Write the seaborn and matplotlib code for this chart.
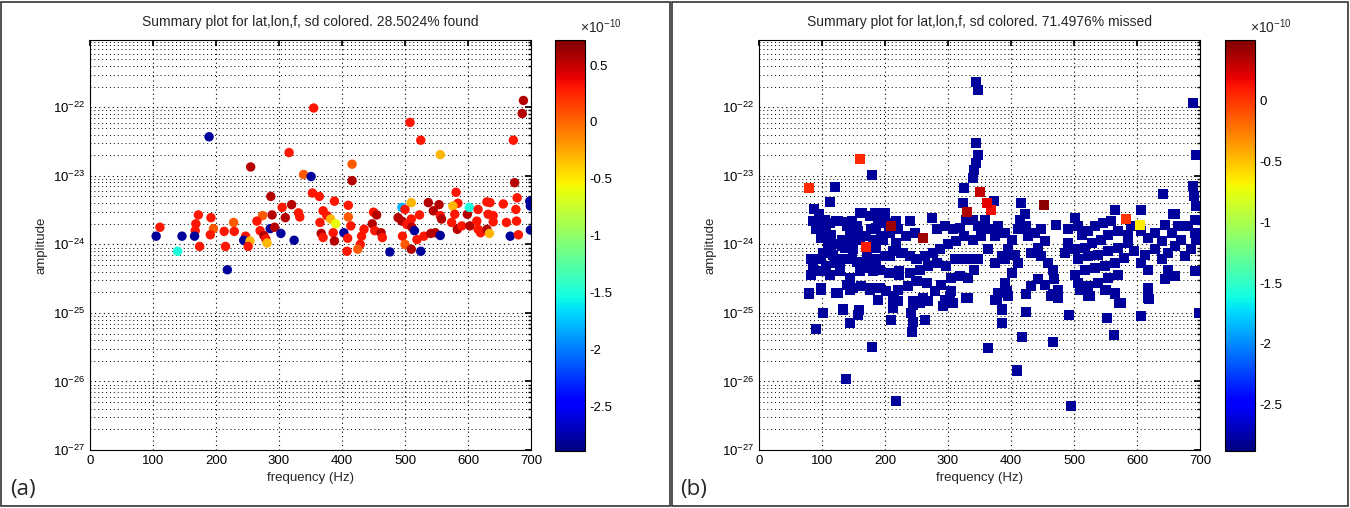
import matplotlib
matplotlib.use("Agg")
import matplotlib.pyplot as plt
import matplotlib.ticker as mticker
from matplotlib.colors import Normalize
from matplotlib.cm import ScalarMappable
from matplotlib.patches import Rectangle
import numpy as np
import pandas as pd
import seaborn as sns


### Data ###

# (a) found injections: frequency (Hz), log10(amplitude), sd (x 1e-10)
found_freq = [
    189, 316, 255, 355, 339, 351, 353, 287, 320, 305, 331, 333, 310, 289, 274, 265,
    172, 192, 168, 111, 196, 167, 191, 213, 228, 229, 270, 286, 293, 276, 279, 303,
    324, 105, 146, 166, 247, 244, 254, 251, 281, 174, 215, 139, 218, 688, 686, 508,
    525, 672, 556, 416, 416, 674, 364, 388, 410, 510, 537, 554, 581, 584, 630, 635,
    656, 678, 698, 699, 495, 500, 523, 545, 556, 558, 576, 579, 599, 602, 616, 632,
    640, 640, 676, 677, 661, 699, 370, 376, 365, 382, 390, 367, 370, 386, 388, 410,
    414, 403, 409, 435, 431, 429, 425, 408, 450, 455, 448, 452, 462, 464, 476, 489,
    495, 503, 510, 511, 515, 496, 500, 510, 519, 525, 530, 541, 548, 556, 574, 583,
    590, 603, 614, 616, 620, 630, 634, 667, 680,
]
found_logamp = [
    -22.43, -22.66, -22.87, -22.01, -22.98, -23.01, -23.25, -23.30, -23.42, -23.46, -23.54, -23.60, -23.61, -23.57, -23.58, -23.66,
    -23.57, -23.61, -23.70, -23.75, -23.77, -23.80, -23.86, -23.81, -23.68, -23.81, -23.80, -23.77, -23.75, -23.87, -23.92, -23.84,
    -23.94, -23.88, -23.88, -23.88, -23.88, -23.94, -23.95, -24.03, -23.98, -24.03, -24.03, -24.10, -24.37, -21.90, -22.09, -22.22,
    -22.48, -22.48, -22.69, -22.83, -23.07, -23.10, -23.30, -23.37, -23.43, -23.39, -23.39, -23.42, -23.24, -23.40, -23.38, -23.39,
    -23.41, -23.32, -23.37, -23.44, -23.46, -23.49, -23.57, -23.51, -23.58, -23.63, -23.44, -23.56, -23.56, -23.46, -23.49, -23.56,
    -23.58, -23.67, -23.49, -23.66, -23.68, -23.79, -23.51, -23.58, -23.68, -23.63, -23.70, -23.84, -23.90, -23.83, -23.95, -23.60,
    -23.73, -23.83, -23.91, -23.78, -23.88, -24.00, -24.07, -24.10, -23.53, -23.57, -23.70, -23.80, -23.83, -23.90, -24.11, -23.61,
    -23.66, -23.71, -23.63, -23.75, -23.80, -23.88, -24.00, -24.07, -23.93, -24.10, -23.88, -23.84, -23.83, -23.87, -23.68, -23.78,
    -23.73, -23.73, -23.66, -23.78, -23.83, -23.78, -23.84, -23.88, -23.86,
]
found_sd = [
    -2.8, 0.3, 0.55, 0.3, 0.05, -2.8, 0.3, 0.55, 0.55, 0.3, 0.3, 0.3, 0.55, 0.55, 0.05, 0.3,
    0.3, 0.3, 0.3, 0.3, 0.05, 0.3, 0.3, 0.3, 0.05, 0.3, 0.3, -2.8, 0.55, 0.55, 0.3, -2.8,
    -2.8, -2.8, -2.8, -2.8, 0.3, -2.8, -0.3, 0.3, -0.3, 0.3, 0.3, -1.5, -2.8, 0.55, 0.55, 0.3,
    0.3, 0.3, -0.3, 0.05, 0.55, 0.55, 0.3, 0.3, 0.3, -0.3, 0.55, 0.55, 0.3, 0.3, 0.3, 0.3,
    0.3, 0.3, -2.8, -2.8, -1.8, 0.3, 0.3, 0.55, 0.3, 0.55, -0.3, 0.3, 0.55, -1.5, 0.3, 0.3,
    0.3, 0.3, 0.3, 0.3, 0.3, -2.8, 0.3, 0.3, 0.3, -0.3, -0.6, 0.55, 0.3, 0.3, 0.55, 0.05,
    0.3, -2.8, 0.3, 0.3, 0.3, 0.3, 0.05, 0.3, 0.3, 0.55, 0.55, 0.3, 0.55, 0.3, -2.8, 0.55,
    0.55, 0.3, 0.3, 0.55, -2.8, 0.3, 0.05, 0.55, 0.3, -2.8, 0.3, 0.55, 0.55, -2.8, 0.3, 0.55,
    0.3, 0.55, 0.3, 0.3, 0.3, 0.55, -0.3, -2.8, 0.3,
]

# (b) missed injections
missed_freq = [
    344, 348, 689, 344, 348, 694, 160, 180, 80, 120, 345, 342, 340, 326, 351, 689,
    691, 641, 112, 362, 369, 373, 330, 324, 453, 416, 583, 605, 607, 565, 210, 260,
    170, 657, 694,
    88, 96, 104, 112, 91, 107, 115, 125, 139, 147, 160, 176, 184, 200, 202, 186,
    157, 144, 131, 120, 110, 102, 118, 136, 147, 160, 170, 181, 194, 207, 221, 234,
    247, 239, 218, 274, 282, 295, 308, 319, 329, 340, 350, 353, 340, 326, 313, 300,
    287, 276, 263, 250, 239, 226, 213, 200, 186, 176, 160, 147, 133, 120, 107, 94,
    83, 86, 83, 99, 112, 128, 144, 160, 176, 192, 207, 223, 239, 255, 268, 282,
    297, 311, 324, 340, 342, 332, 319, 305, 289, 279, 266, 250, 237, 221, 213, 202,
    192, 176, 162, 149, 139, 123, 99, 80, 189, 213, 244, 260, 295, 308, 329,
    358, 348, 364, 379, 374, 390, 401, 395, 385, 364, 348, 374, 390, 406, 411, 401,
    390, 379, 374, 422, 414, 424, 411, 427, 438, 448, 454, 443, 432, 448, 459, 467,
    469, 475, 464, 454, 443, 432, 472, 491, 501, 506, 512, 522, 533, 546, 559, 570,
    554, 543, 528, 517, 501, 491, 485, 506, 522, 538, 554, 570, 586, 596, 580, 565,
    549, 533, 517, 501, 506, 522, 538, 554, 570, 549, 565, 575, 522, 607, 618, 628,
    639, 628, 612, 607, 618, 639, 649, 660, 670, 655, 665, 660, 644, 681, 692, 692,
    694, 649, 660, 644, 618, 618, 692, 591, 586, 676, 686,
    80, 99, 125, 144, 176, 189, 215, 221, 213, 210, 244, 255, 268, 242, 244, 243,
    264, 292, 303, 305, 332, 377, 395, 393, 386, 386, 424, 424, 467, 475, 492, 509,
    525, 551, 565, 572, 552, 564, 607, 617, 619, 698, 102, 133, 158, 157, 145, 90,
    179, 363, 418, 466, 410, 138, 217, 496,
    96, 86, 102, 91, 107, 99, 115, 123, 141, 155, 163, 184, 200, 189, 178, 160,
    144, 131, 115, 149, 171, 186, 197, 208, 218, 229, 208, 186, 155, 128, 99, 86,
    223, 181,
]
missed_logamp = [
    -21.63, -21.75, -21.94, -22.52, -22.70, -22.70, -22.75, -22.99, -23.18, -23.16, -22.81, -22.91, -23.03, -23.17, -23.23, -23.15,
    -23.30, -23.26, -23.38, -23.40, -23.50, -23.36, -23.53, -23.40, -23.43, -23.40, -23.63, -23.71, -23.50, -23.50, -23.73, -23.91,
    -24.04, -23.55, -23.44,
    -23.49, -23.56, -23.64, -23.69, -23.71, -23.78, -23.86, -23.66, -23.73, -23.66, -23.54, -23.59, -23.54, -23.54, -23.69, -23.76,
    -23.81, -23.88, -23.93, -24.00, -24.05, -24.12, -24.15, -24.05, -23.98, -23.93, -23.88, -23.93, -23.88, -23.83, -23.78, -23.88,
    -23.83, -23.66, -23.66, -23.61, -23.78, -23.73, -23.78, -23.76, -23.64, -23.64, -23.73, -23.88, -23.93, -23.88, -23.95, -24.00,
    -24.07, -24.12, -24.17, -24.22, -24.17, -24.12, -24.10, -24.17, -24.22, -24.27, -24.25, -24.22, -24.22, -24.27, -24.32, -24.22,
    -24.22, -24.32, -24.44, -24.39, -24.44, -24.39, -24.49, -24.39, -24.34, -24.37, -24.42, -24.44, -24.42, -24.37, -24.32, -24.27,
    -24.32, -24.22, -24.22, -24.22, -24.37, -24.49, -24.46, -24.49, -24.59, -24.68, -24.56, -24.54, -24.61, -24.66, -24.76, -24.68,
    -24.63, -24.63, -24.61, -24.63, -24.59, -24.71, -24.63, -24.71, -24.81, -24.85, -24.83, -24.78, -24.81, -24.85, -24.78,
    -23.64, -23.73, -23.78, -23.73, -23.88, -23.83, -23.93, -24.07, -24.17, -24.07, -24.22, -24.27, -24.22, -24.15, -24.27, -24.42,
    -24.56, -24.71, -24.81, -23.56, -23.64, -23.73, -23.78, -23.88, -23.83, -23.78, -23.95, -24.05, -24.12, -24.17, -24.27, -24.37,
    -24.51, -24.66, -24.76, -24.59, -24.51, -24.61, -23.71, -23.78, -23.61, -23.73, -23.86, -23.81, -23.73, -23.69, -23.66, -23.81,
    -23.86, -23.93, -23.98, -24.05, -24.07, -23.98, -24.12, -24.22, -24.17, -24.15, -24.10, -24.05, -23.98, -24.10, -24.20, -24.27,
    -24.32, -24.34, -24.37, -24.44, -24.56, -24.61, -24.56, -24.49, -24.44, -24.66, -24.71, -24.85, -24.76, -23.81, -23.90, -23.83,
    -23.95, -24.07, -24.15, -24.27, -24.37, -24.22, -24.12, -24.03, -23.93, -23.83, -23.73, -23.56, -23.71, -23.73, -23.83, -23.64,
    -23.93, -24.37, -24.46, -24.51, -24.63, -24.78, -24.39, -23.73, -23.86, -24.17, -24.07,
    -24.72, -24.66, -24.71, -24.66, -24.66, -24.81, -24.76, -24.83, -24.93, -25.11, -24.88, -24.85, -24.83, -25.00, -25.13, -25.28,
    -25.11, -24.90, -24.76, -24.68, -24.78, -24.81, -24.76, -24.68, -24.95, -25.15, -24.98, -24.73, -24.73, -24.78, -25.03, -24.66,
    -24.76, -24.66, -24.73, -24.85, -25.07, -25.32, -25.05, -24.68, -24.80, -25.00, -25.00, -24.95, -24.96, -25.03, -25.15, -25.24,
    -25.50, -25.51, -25.35, -25.42, -25.84, -25.97, -26.28, -26.36,
    -23.59, -23.66, -23.68, -23.78, -23.81, -23.90, -23.93, -23.66, -23.68, -23.73, -23.54, -23.56, -23.56, -23.68, -23.78, -23.88,
    -23.93, -24.03, -24.07, -24.07, -24.12, -24.05, -23.93, -23.83, -23.98, -24.12, -24.17, -24.25, -24.25, -24.25, -24.22, -24.25,
    -24.39, -24.39,
]
missed_colored = {  # index -> sd (x 1e-10); every other missed point sits at -2.8
    6: 0.05, 8: 0.05, 14: 0.3, 19: 0.2, 20: 0.15, 22: 0.35, 24: 0.45,
    26: 0.0, 27: -0.65, 30: 0.4, 31: 0.4, 32: 0.1,
}
missed_sd = [missed_colored.get(i, -2.8) for i in range(len(missed_freq))]

found_title = "Summary plot for lat,lon,f, sd colored. 28.5024% found"
missed_title = "Summary plot for lat,lon,f, sd colored. 71.4976% missed"
freq_ticks = [0, 100, 200, 300, 400, 500, 600, 700]
amp_ticks = [1e-27, 1e-26, 1e-25, 1e-24, 1e-23, 1e-22]
found_cbar_ticks = [0.5, 0, -0.5, -1, -1.5, -2, -2.5]
missed_cbar_ticks = [0, -0.5, -1, -1.5, -2, -2.5]
found_clim = (-2.89, 0.72)
missed_clim = (-2.88, 0.5)


### Styling ###

sns.set_theme(style="white")
plt.rcParams["font.family"] = ["Liberation Sans", "DejaVu Sans"]
plt.rcParams["axes.unicode_minus"] = False
plt.rcParams["mathtext.default"] = "regular"

JET = matplotlib.colormaps["jet"]
W, H = 1350, 508
fig = plt.figure(figsize=(W / 100, H / 100), dpi=100)


def draw_panel(ax_rect, cb_rect, freq, logamp, sd, marker, size, clim, cbar_ticks, title, sort_sd):
    df = pd.DataFrame({
        "freq": freq,
        "amp": 10.0 ** np.array(logamp),
        "sd": sd,
    })
    if sort_sd:
        # colored points last, so they sit on top of the navy cloud
        df = df.sort_values("sd", kind="stable")
    ax = fig.add_axes(ax_rect)
    sns.scatterplot(
        data=df, x="freq", y="amp", hue="sd",
        palette=JET, hue_norm=Normalize(*clim),
        marker=marker, s=size, linewidth=0,
        legend=False, ax=ax, zorder=3,
    )
    ax.set_yscale("log")
    ax.set_xlim(0, 700)
    ax.set_ylim(1e-27, 9.6e-22)
    ax.set_xticks(freq_ticks)
    ax.set_yticks(amp_ticks)
    ax.yaxis.set_major_formatter(mticker.LogFormatterMathtext())
    ax.yaxis.set_minor_locator(mticker.LogLocator(base=10, subs=np.arange(2, 10)))
    ax.yaxis.set_minor_formatter(mticker.NullFormatter())
    ax.xaxis.set_minor_locator(mticker.NullLocator())

    ax.set_axisbelow(True)
    ax.grid(True, which="major", axis="both", linestyle=(0, (1, 3)), color="black", linewidth=0.8)
    ax.grid(True, which="minor", axis="y", linestyle=(0, (1, 3)), color="black", linewidth=0.7)

    ax.tick_params(axis="both", which="both", direction="in", top=True, right=True,
                   labelsize=9.5, colors="black")
    ax.tick_params(axis="both", which="major", length=4)
    ax.tick_params(axis="y", which="minor", length=2)
    for spine in ax.spines.values():
        spine.set_color("black")
        spine.set_linewidth(0.8)

    ax.set_xlabel("frequency (Hz)", fontsize=9.5)
    ax.set_ylabel("amplitude", fontsize=9.5)
    ax.set_title(title, fontsize=10, pad=10)

    cax = fig.add_axes(cb_rect)
    cb = fig.colorbar(ScalarMappable(norm=Normalize(*clim), cmap=JET), cax=cax)
    cb.set_ticks(cbar_ticks)
    cb.ax.yaxis.set_major_formatter(mticker.FormatStrFormatter("%g"))
    cax.tick_params(axis="y", direction="in", left=True, right=True, length=4,
                    labelsize=9.5, colors="black")
    cb.outline.set_edgecolor("black")
    cb.outline.set_linewidth(0.8)
    cax.text(0.85, 1.01, r"$\times\mathregular{10^{-10}}$", transform=cax.transAxes,
             fontsize=10, ha="left", va="bottom")
    return ax


def fx(px):
    return px / W


def fy(py):
    return 1 - py / H


draw_panel([fx(90), fy(450), fx(441), 410 / H], [fx(555), fy(451), fx(30), 411 / H],
           found_freq, found_logamp, found_sd, "o", 46, found_clim, found_cbar_ticks,
           found_title, sort_sd=False)
draw_panel([fx(759), fy(450), fx(441), 410 / H], [fx(1225), fy(451), fx(30), 411 / H],
           missed_freq, missed_logamp, missed_sd, "s", 52, missed_clim, missed_cbar_ticks,
           missed_title, sort_sd=True)

# panel frames and letters
for x0, x1 in [(1, 670), (672, 1348)]:
    fig.patches.append(Rectangle((fx(x0), fy(506)), fx(x1 - x0), 504 / H, transform=fig.transFigure,
                                 fill=False, edgecolor="#333333", linewidth=1.2))
fig.text(fx(10), fy(490), "(a)", fontsize=16, family=["Open Sans", "DejaVu Sans"], va="center")
fig.text(fx(680), fy(490), "(b)", fontsize=16, family=["Open Sans", "DejaVu Sans"], va="center")

fig.savefig("out.png", dpi=100)
